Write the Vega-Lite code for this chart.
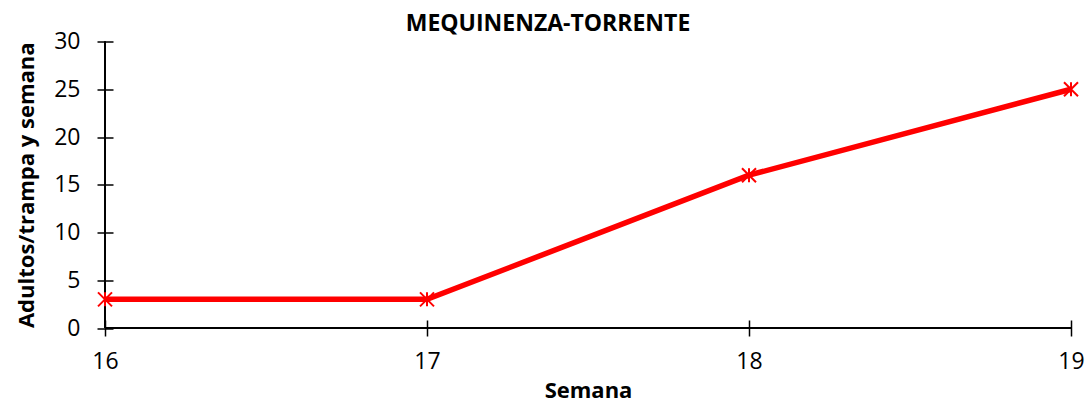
{
  "$schema": "https://vega.github.io/schema/vega-lite/v6.json",
  "autosize": {"type": "none"},
  "width": 966,
  "height": 286.5,
  "padding": {"left": 105, "top": 41.5, "right": 15, "bottom": 75},
  "background": "white",
  "config": {"view": {"stroke": null}, "font": "Open Sans"},
  "title": {
    "text": "MEQUINENZA-TORRENTE",
    "font": "Open Sans",
    "fontSize": 23,
    "fontWeight": "bold",
    "color": "#000000",
    "anchor": "middle",
    "dx": -40,
    "dy": 11,
    "offset": 6
  },
  "data": {
    "values": [
      {"semana": 16, "adultos": 3},
      {"semana": 17, "adultos": 3},
      {"semana": 18, "adultos": 16},
      {"semana": 19, "adultos": 25}
    ]
  },
  "layer": [
    {
      "mark": {"type": "rule", "color": "#000000", "strokeWidth": 1.5},
      "encoding": {
        "x": {"datum": 16, "type": "quantitative", "scale": {"domain": [16, 19], "nice": false, "zero": false}},
        "y": {"datum": 0, "type": "quantitative"},
        "y2": {"datum": 30}
      }
    },
    {
      "mark": {"type": "rule", "color": "#000000", "strokeWidth": 1.5},
      "encoding": {
        "y": {"datum": 0, "type": "quantitative", "scale": {"domain": [0, 30], "nice": false}},
        "x": {"datum": 16, "type": "quantitative"},
        "x2": {"datum": 19}
      }
    },
    {
      "mark": {"type": "line", "color": "#FF0000", "strokeWidth": 5.5},
      "encoding": {
        "x": {
          "field": "semana",
          "type": "quantitative",
          "scale": {"domain": [16, 19], "nice": false, "zero": false},
          "axis": {
            "values": [16, 17, 18, 19],
            "format": "d",
            "domain": false,
            "grid": false,
            "offset": -8,
            "tickSize": 16,
            "tickColor": "#000000",
            "tickWidth": 1.5,
            "labelFont": "Open Sans",
            "labelFontSize": 23,
            "labelColor": "#000000",
            "labelPadding": 14,
            "labelFlush": false,
            "labelBound": false,
            "labelOverlap": false,
            "title": "Semana",
            "titleFont": "Open Sans",
            "titleFontSize": 22,
            "titleFontWeight": "bold",
            "titleColor": "#000000",
            "titleY": 70,
            "titleBaseline": "middle"
          }
        },
        "y": {
          "field": "adultos",
          "type": "quantitative",
          "scale": {"domain": [0, 30], "nice": false},
          "axis": {
            "values": [0, 5, 10, 15, 20, 25, 30],
            "domain": false,
            "grid": false,
            "offset": -8,
            "tickSize": 16,
            "tickColor": "#000000",
            "tickWidth": 1.5,
            "labelFont": "Open Sans",
            "labelFontSize": 23,
            "labelColor": "#000000",
            "labelPadding": 17,
            "labelFlush": false,
            "title": "Adultos/trampa y semana",
            "titleFont": "Open Sans",
            "titleFontSize": 22,
            "titleFontWeight": "bold",
            "titleColor": "#000000",
            "titleX": -87,
            "titleBaseline": "middle"
          }
        }
      }
    },
    {
      "mark": {
        "type": "point",
        "shape": "M-1,-1L1,1M-1,1L1,-1M0,-1L0,1",
        "filled": false,
        "stroke": "#FF0000",
        "strokeWidth": 2,
        "size": 196,
        "opacity": 1
      },
      "encoding": {
        "x": {"field": "semana", "type": "quantitative"},
        "y": {"field": "adultos", "type": "quantitative"}
      }
    }
  ]
}
